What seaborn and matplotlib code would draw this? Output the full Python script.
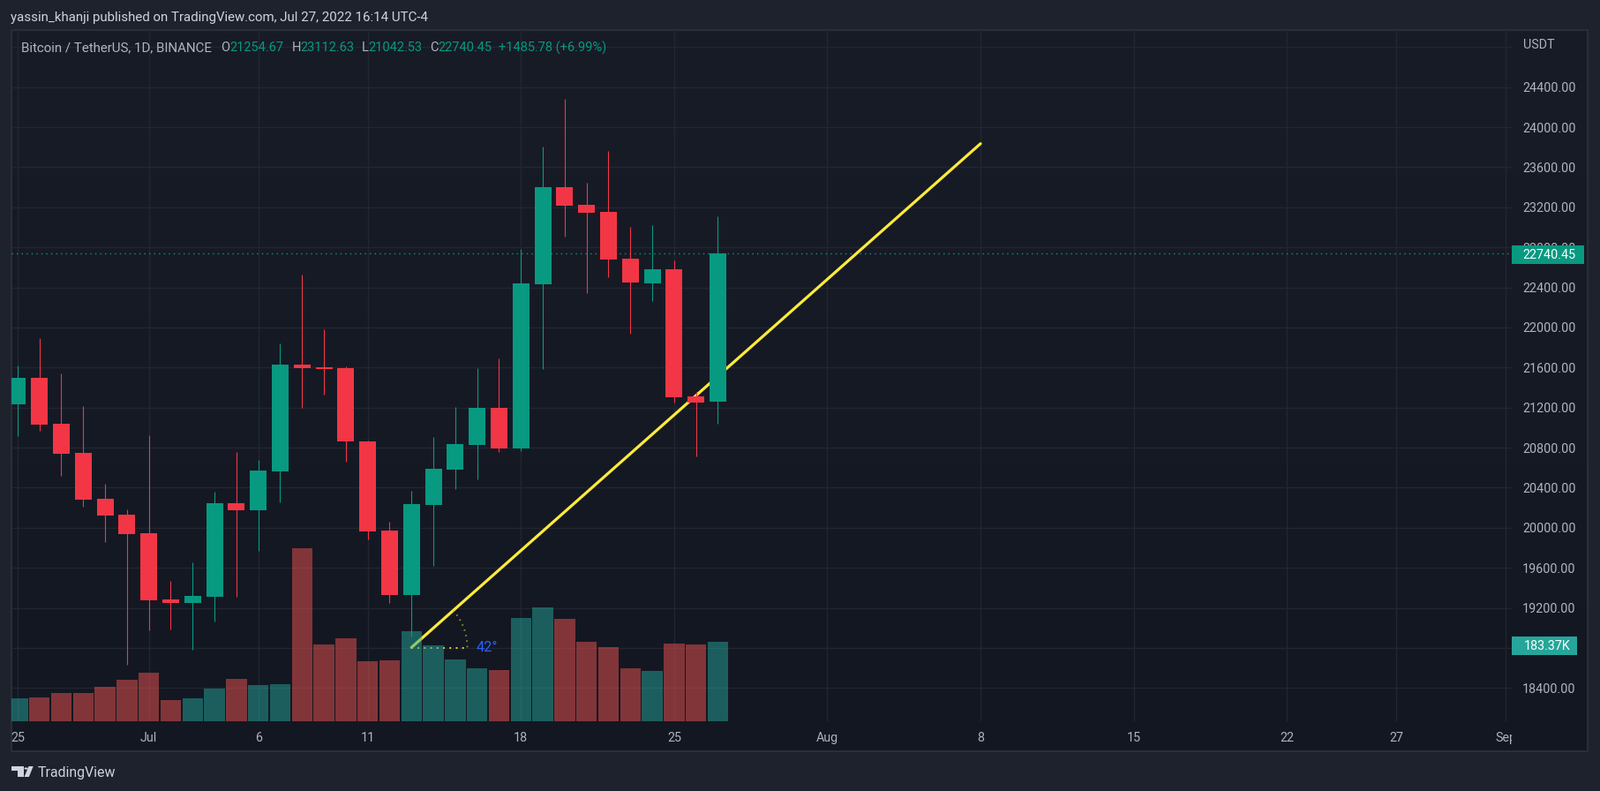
import numpy as np
import pandas as pd
from matplotlib import pyplot as plt
from matplotlib.patches import Polygon, Rectangle
import seaborn as sns

# candles, Jun 25 -> Jul 27 (one per day)
day = list(range(33))
open_ = [21235, 21497, 21039, 20748, 20289, 20131, 19945, 19284, 19252, 19313, 20245, 20177, 20563,
         21629, 21603, 21594, 20862, 19972, 19331, 20230, 20583, 20830, 21197, 20794, 22432, 23401,
         23225, 23154, 22687, 22440, 22581, 21312, 21254.67]
high = [21620, 21894, 21541, 21215, 20439, 20183, 20924, 19469, 19655, 20360, 20757, 20677, 21841,
        22529, 21982, 21612, 20871, 20060, 20369, 20906, 21206, 21594, 21691, 22784, 23807, 24283,
        23445, 23763, 23005, 23022, 22670, 21356, 23112.63]
low = [20918, 20971, 20521, 20213, 19860, 18635, 18978, 18987, 18784, 19066, 19313, 19772, 20257,
       21200, 21330, 20662, 19886, 19252, 18917, 19622, 20389, 20486, 20759, 20768, 21588, 22910,
       22343, 22502, 21938, 22264, 21250, 20715, 21042.53]
close = [21497, 21032, 20742, 20283, 20124, 19939, 19278, 19252, 19320, 20245, 20177, 20571, 21629,
         21594, 21585, 20865, 19966, 19331, 20236, 20589, 20836, 21197, 20794, 22440, 23401, 23216,
         23146, 22678, 22449, 22581, 21303, 21254, 22740.45]
# volume in thousands
volume = [52.5, 54.6, 64.8, 64.8, 79.1, 95.5, 111.8, 48.4, 52.5, 75.0, 97.5, 83.2, 85.2,
          400.0, 177.2, 191.5, 138.4, 140.4, 207.9, 175.2, 142.5, 122.0, 117.9, 238.5, 263.1, 236.5,
          183.3, 171.1, 122.0, 115.9, 179.3, 177.2, 183.37]

tick_days = [0, 6, 11, 16, 23, 30, 37, 44, 51, 58, 63, 68]
tick_names = ['25', 'Jul', '6', '11', '18', '25', 'Aug', '8', '15', '22', '27', 'Sep']
price_ticks = [18400, 18800, 19200, 19600, 20000, 20400, 20800, 21200, 21600, 22000, 22400, 22800,
               23200, 23600, 24000, 24400, 24800]
last_price = 22740.45
last_volume = '183.37K'

# trend line and angle marker
trend_days = [18, 44]
trend_prices = [18805, 23836]
angle_deg = 42

W, H = 1813, 896
UP = '#089981'
DOWN = '#f23645'
VOL_UP = '#26a69a'
VOL_DOWN = '#ef5350'
GRID = '#222631'
TEXT = '#b2b5be'
OUTER = '#1e222d'
FONT = 'Roboto'


def fx(x):
    return x / W


def fy(y):
    return 1 - y / H


def box(x0, y0, x1, y1):
    return [fx(x0), fy(y1), fx(x1) - fx(x0), fy(y0) - fy(y1)]


sns.set_theme(style='dark', rc={'font.family': FONT, 'figure.facecolor': OUTER, 'savefig.facecolor': OUTER})

df = pd.DataFrame({'day': day, 'open': open_, 'high': high, 'low': low, 'close': close, 'volume': volume})
df['dir'] = np.where(df['close'] >= df['open'], 'up', 'down')
df['body'] = (df['close'] - df['open']).abs()
df['bottom'] = df[['open', 'close']].min(axis=1)

f = plt.figure(figsize=(W / 100, H / 100), dpi=100)

# pane background, slight vertical gradient
bg = f.add_axes(box(13.3, 34, 1799.3, 851))
top_c = np.array([0x18, 0x1c, 0x27]) / 255
bot_c = np.array([0x13, 0x17, 0x22]) / 255
bg.imshow((top_c + (bot_c - top_c) * np.linspace(0, 1, 200)[:, None])[:, None, :], aspect='auto')
bg.set_xticks([])
bg.set_yticks([])
bg.grid(False)
for s in bg.spines.values():
    s.set_color('#2a2e39')
    s.set_linewidth(1.5)

# volume on its own scale, drawn above the price grid and trend line
ax = f.add_axes(box(13.3, 34, 1712.7, 816.7), zorder=2)
ax.patch.set_alpha(0)
vol_ax = f.add_axes(box(13.3, 34, 1712.7, 816.7), zorder=3)
vol_ax.patch.set_alpha(0)
ax_top = f.add_axes(box(13.3, 34, 1712.7, 816.7), zorder=4)
ax_top.patch.set_alpha(0)

xlim = (-0.266, 68.26)
ylim = (18070.3, 24970.6)

sns.barplot(data=df, x='day', y='volume', hue='dir', palette={'up': VOL_UP, 'down': VOL_DOWN}, native_scale=True,
            width=0.94, dodge=False, legend=False, errorbar=None, saturation=1, alpha=0.5, linewidth=0, ax=vol_ax)
vol_ax.set_xlim(xlim)
vol_ax.set_ylim(0, 1600)
vol_ax.axis('off')

# candle bodies and wicks
for name, col in (('up', UP), ('down', DOWN)):
    part = df[df['dir'] == name]
    sns.barplot(data=part, x='day', y='body', color=col, native_scale=True, bottom=part['bottom'].values,
                width=0.77, errorbar=None, saturation=1, linewidth=0, ax=ax_top)
    ax_top.vlines(part['day'], part['low'], part['high'], color=col, lw=0.8, zorder=1)
ax_top.set_xlim(xlim)
ax_top.set_ylim(ylim)
ax_top.axis('off')

# price grid, ticks, trend line
ax.set_xlim(xlim)
ax.set_ylim(ylim)
ax.set_xticks(tick_days, tick_names)
ax.set_yticks(price_ticks, [f'{p:.2f}' if p < 24800 else '' for p in price_ticks])
ax.yaxis.tick_right()
ax.grid(True, color=GRID, lw=1)
ax.set_axisbelow(True)
ax.tick_params(axis='both', length=0, labelcolor=TEXT, labelsize=10.3)
ax.tick_params(axis='y', pad=9)
ax.tick_params(axis='x', pad=9)
for s in ax.spines.values():
    s.set_visible(False)
clip = Rectangle((13.3, H - 851), 1699.4, 817, transform=None)
for lab in ax.get_xticklabels():
    lab.set_clip_path(clip)
    lab.set_clip_on(True)

ax.axhline(last_price, color=UP, lw=1, ls=(0, (1, 3)))
sns.lineplot(x=trend_days, y=trend_prices, color='#ffeb3b', lw=2.3, ax=ax, legend=False, solid_capstyle='round')

# dotted angle marker: horizontal leg + arc, 63px radius on screen
arm_days = 2.55
arm_usd = 63 * 8.816
t = np.deg2rad(np.linspace(0, angle_deg, 30))
ax.plot([trend_days[0], trend_days[0] + arm_days], [trend_prices[0] - 10, trend_prices[0] - 10],
        color='#ffeb3b', lw=1.3, ls=(0, (1, 3)))
ax.plot(trend_days[0] + arm_days * np.cos(t), trend_prices[0] + arm_usd * np.sin(t),
        color='#c9b82f', alpha=0.7, lw=1.3, ls=(0, (1, 2.5)))
f.text(fx(540), fy(733), f'{angle_deg}°', color='#2962ff', fontsize=11.8, va='center', zorder=6)

# price scale badges
f.patches.append(Rectangle((fx(1712.7), fy(298.7)), fx(82.3), fy(0) - fy(20.4), transform=f.transFigure,
                           color=UP, lw=0, zorder=5))
f.patches.append(Rectangle((fx(1712.7), fy(741.7)), fx(74), fy(0) - fy(20.7), transform=f.transFigure,
                           color='#26a69a', lw=0, zorder=5))
f.text(fx(1725.7), fy(289), f'{last_price:.2f}', color='white', fontsize=10.3, va='center', zorder=6)
f.text(fx(1726.5), fy(731.5), last_volume, color='white', fontsize=10.3, va='center', zorder=6)
f.text(fx(1725.7), fy(51), 'USDT', color=TEXT, fontsize=10.3, va='center', zorder=6)

# header + legend row
f.text(fx(12.5), fy(20), 'yassin_khanji published on TradingView.com, Jul 27, 2022 16:14 UTC-4',
       color='#d1d4dc', fontsize=10.85, va='center')
legend_row = [(23.5, 'Bitcoin / TetherUS, 1D, BINANCE', TEXT, 10.8), (250.5, 'O', TEXT, 10.5), (260.7, '21254.67', UP, 10.5),
              (330.6, 'H', TEXT, 10.5), (340.3, '23112.63', UP, 10.5), (410.2, 'L', TEXT, 10.5), (417.3, '21042.53', UP, 10.5),
              (487.2, 'C', TEXT, 10.5), (496.4, '22740.45', UP, 10.5), (565.3, '+1485.78 (+6.99%)', UP, 10.5)]
for x, s, c, fs in legend_row:
    f.text(fx(x), fy(54), s, color=c, fontsize=fs, va='center', zorder=6)

# logo
logo = [[(13, 868), (27, 868), (27, 880), (19.5, 880), (19.5, 873), (13, 873)],
        [(32.5, 868), (37.7, 868), (32.8, 880), (27.5, 880)]]
for pts in logo:
    f.patches.append(Polygon([(fx(a), fy(b)) for a, b in pts], transform=f.transFigure, color='#d1d4dc', lw=0))
f.patches.append(plt.Circle((fx(29.6), fy(870.5)), fx(2.2), transform=f.transFigure, color='#d1d4dc', lw=0))
f.text(fx(42.5), fy(875), 'TradingView', color='#d1d4dc', fontsize=11.4, va='center')

plt.savefig('out.png', dpi=100)
plt.close()
